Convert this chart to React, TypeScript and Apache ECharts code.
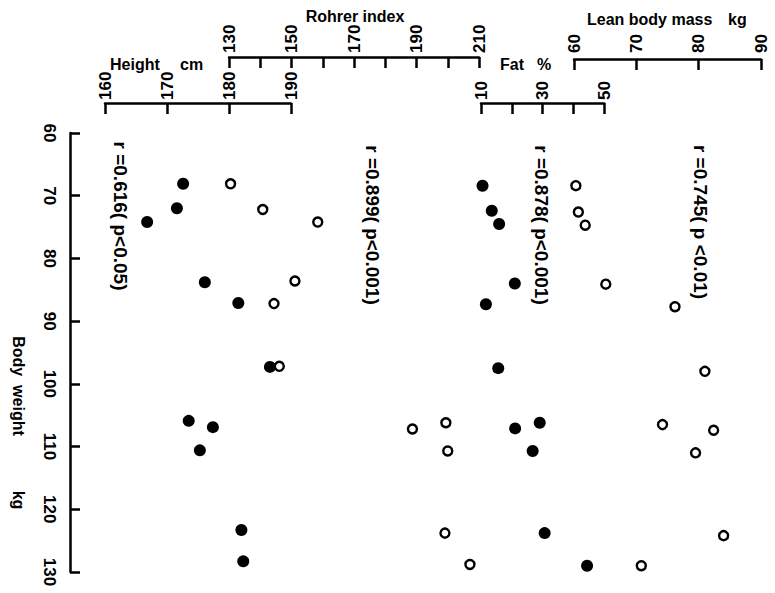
import React, { useEffect, useRef } from "react";
import * as echarts from "echarts";

// Body weight (kg) of each subject as read in each panel, and the panel's value
const heightWeight = [68.1, 72.0, 74.2, 83.8, 87.1, 97.3, 105.9, 106.9, 110.6, 123.3, 128.3];
const heightVals = [172.6, 171.6, 166.8, 176.1, 181.5, 186.6, 173.5, 177.4, 175.3, 182.0, 182.3];

const rohrerWeight = [68.1, 72.2, 74.2, 83.6, 87.2, 97.2, 107.2, 106.2, 110.7, 123.8, 128.8];
const rohrerVals = [130.5, 140.8, 158.4, 151.1, 144.4, 146.1, 188.7, 199.4, 200.0, 199.1, 207.1];

const fatWeight = [68.4, 72.4, 74.5, 84.0, 87.3, 97.5, 107.1, 106.2, 110.7, 123.8, 129.0];
const fatVals = [10.5, 13.5, 15.9, 21.0, 11.6, 15.6, 21.1, 29.1, 26.8, 30.7, 44.5];

const lbmWeight = [68.4, 72.6, 74.7, 84.1, 87.7, 98.0, 106.5, 107.4, 111.0, 124.2, 129.0];
const lbmVals = [60.3, 60.7, 61.8, 65.1, 76.2, 81.0, 74.2, 82.4, 79.5, 84.0, 70.8];

const correlationTexts = [
  "r =0.616( p<0.05)",
  "r =0.899( p<0.001)",
  "r =0.878( p<0.001)",
  "r =0.745( p <0.01)",
];

const INK = "#000";
const FONT = "'Liberation Sans', Arial, sans-serif";

export default function App() {
  const ref = useRef<HTMLDivElement>(null);

  useEffect(() => {
    document.body.style.margin = "0";
    const chart = echarts.init(ref.current!, null, { renderer: "svg" });

    const labelFont = { color: INK, fontSize: 17, fontWeight: "bold", fontFamily: FONT };
    const lineStyle = { color: INK, width: 2.5 };

    const xAxisDef = (
      gridIndex: number,
      min: number,
      max: number,
      interval: number,
      offset: number,
      labelEvery: number,
      margin: number
    ) => ({
      type: "value",
      gridIndex,
      position: "top",
      offset,
      min,
      max,
      interval,
      axisLine: { show: true, onZero: false, lineStyle },
      axisTick: { show: true, inside: true, length: 11, lineStyle },
      axisLabel: {
        show: true,
        rotate: -90,
        margin,
        ...labelFont,
        showMinLabel: true,
        showMaxLabel: true,
        formatter: (v: number) => ((v - min) % labelEvery === 0 ? String(v) : ""),
      },
      splitLine: { show: false },
    });

    const yAxisDef = (gridIndex: number, show: boolean) => ({
      type: "value",
      gridIndex,
      show,
      position: "left",
      offset: 35,
      min: 60,
      max: 130,
      interval: 10,
      inverse: true,
      axisLine: { show: true, onZero: false, lineStyle },
      axisTick: { show: true, inside: true, length: 10, lineStyle },
      axisLabel: { show: true, rotate: -90, margin: 12, ...labelFont },
      splitLine: { show: false },
    });

    const gridDef = (left: number, width: number) => ({
      left,
      width,
      top: 133,
      height: 439,
      containLabel: false,
      outerBoundsMode: "none",
    });

    const filled = { symbol: "circle", symbolSize: 12, itemStyle: { color: INK, opacity: 1 } };
    const open = {
      symbol: "circle",
      symbolSize: 9,
      itemStyle: { color: "#fff", borderColor: INK, borderWidth: 2.4, opacity: 1 },
    };

    const pairs = (vals: number[], w: number[]) => vals.map((v, i) => [v, w[i]]);

    const txt = (
      text: string,
      x: number,
      y: number,
      opts: { rotation?: number; align?: string; size?: number } = {}
    ) => ({
      type: "text",
      x,
      y,
      rotation: opts.rotation ?? 0,
      style: {
        text,
        fill: INK,
        fontSize: opts.size ?? 16,
        fontWeight: "bold",
        fontFamily: FONT,
        align: opts.align ?? "center",
        verticalAlign: "middle",
        textAlign: opts.align ?? "center",
        textVerticalAlign: "middle",
      },
    });

    const V = -Math.PI / 2;

    chart.setOption({
      animation: false,
      backgroundColor: "#fff",
      grid: [gridDef(105, 186), gridDef(229, 250), gridDef(481, 123), gridDef(574, 187)],
      xAxis: [
        xAxisDef(0, 160, 190, 10, 30, 10, 3),
        xAxisDef(1, 130, 210, 10, 76, 20, 4),
        xAxisDef(2, 10, 50, 10, 30, 20, 3),
        xAxisDef(3, 60, 90, 10, 74, 10, 6),
      ],
      yAxis: [yAxisDef(0, true), yAxisDef(1, false), yAxisDef(2, false), yAxisDef(3, false)],
      series: [
        { type: "scatter", xAxisIndex: 0, yAxisIndex: 0, data: pairs(heightVals, heightWeight), ...filled },
        { type: "scatter", xAxisIndex: 1, yAxisIndex: 1, data: pairs(rohrerVals, rohrerWeight), ...open },
        { type: "scatter", xAxisIndex: 2, yAxisIndex: 2, data: pairs(fatVals, fatWeight), ...filled },
        { type: "scatter", xAxisIndex: 3, yAxisIndex: 3, data: pairs(lbmVals, lbmWeight), ...open },
      ],
      graphic: [
        txt("Rohrer index", 355, 16),
        txt("Height", 110, 64, { align: "left" }),
        txt("cm", 180, 64, { align: "left" }),
        txt("Fat", 500, 64, { align: "left" }),
        txt("%", 537, 64, { align: "left" }),
        txt("Lean body mass", 587, 19, { align: "left" }),
        txt("kg", 728, 19, { align: "left" }),
        txt("Body  weight", 18, 386, { rotation: V }),
        txt("kg", 18, 500, { rotation: V }),
        txt(correlationTexts[0], 120, 216, { rotation: V, size: 19 }),
        txt(correlationTexts[1], 372, 225, { rotation: V, size: 19 }),
        txt(correlationTexts[2], 541, 225, { rotation: V, size: 19 }),
        txt(correlationTexts[3], 700, 222, { rotation: V, size: 19 }),
      ],
    });

    return () => chart.dispose();
  }, []);

  return <div ref={ref} style={{ width: 775, height: 593, background: "#fff" }} />;
}
